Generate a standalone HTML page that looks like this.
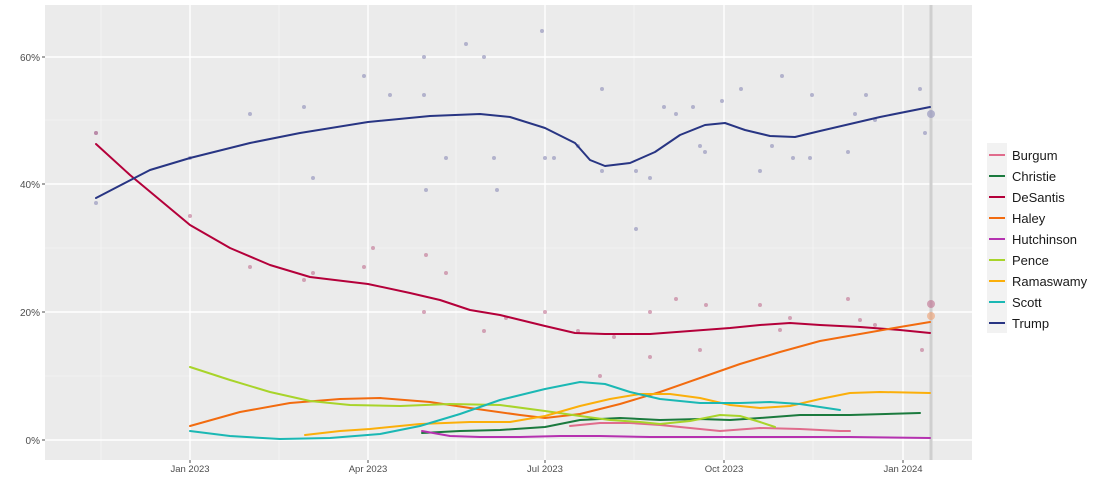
<!DOCTYPE html>
<html><head><meta charset="utf-8"><style>
body{margin:0;background:#fff;width:1100px;height:489px;overflow:hidden;font-family:"Liberation Sans",sans-serif}
</style></head><body>
<svg width="1100" height="489" xmlns="http://www.w3.org/2000/svg" font-family="Liberation Sans, sans-serif">
<rect x="45" y="5" width="927" height="455" fill="#ebebeb"/>
<g stroke="#f5f5f5" stroke-width="0.8">
<line x1="45" x2="972" y1="376" y2="376"/><line x1="45" x2="972" y1="248" y2="248"/><line x1="45" x2="972" y1="120" y2="120"/>
<line x1="101" x2="101" y1="5" y2="460"/><line x1="279" x2="279" y1="5" y2="460"/><line x1="456" x2="456" y1="5" y2="460"/><line x1="634" x2="634" y1="5" y2="460"/><line x1="813" x2="813" y1="5" y2="460"/>
</g>
<g stroke="#fff" stroke-width="1.4">
<line x1="45" x2="972" y1="440" y2="440"/><line x1="45" x2="972" y1="312" y2="312"/><line x1="45" x2="972" y1="184" y2="184"/><line x1="45" x2="972" y1="57" y2="57"/>
<line x1="190" x2="190" y1="5" y2="460"/><line x1="368" x2="368" y1="5" y2="460"/><line x1="545" x2="545" y1="5" y2="460"/><line x1="724" x2="724" y1="5" y2="460"/><line x1="903" x2="903" y1="5" y2="460"/>
</g>
<line x1="931" x2="931" y1="5" y2="460" stroke="#cfcfcf" stroke-width="3"/>
<g fill="#9a9ac0" opacity="0.7">
<circle cx="96" cy="203" r="2"/><circle cx="96" cy="133" r="2"/><circle cx="190" cy="158" r="2"/><circle cx="250" cy="114" r="2"/><circle cx="304" cy="107" r="2"/><circle cx="313" cy="178" r="2"/><circle cx="364" cy="76" r="2"/><circle cx="390" cy="95" r="2"/><circle cx="424" cy="57" r="2"/><circle cx="424" cy="95" r="2"/><circle cx="426" cy="190" r="2"/><circle cx="446" cy="158" r="2"/><circle cx="466" cy="44" r="2"/><circle cx="484" cy="57" r="2"/><circle cx="494" cy="158" r="2"/><circle cx="497" cy="190" r="2"/><circle cx="542" cy="31" r="2"/><circle cx="545" cy="158" r="2"/><circle cx="554" cy="158" r="2"/><circle cx="578" cy="146" r="2"/><circle cx="602" cy="89" r="2"/><circle cx="602" cy="171" r="2"/><circle cx="636" cy="229" r="2"/><circle cx="636" cy="171" r="2"/><circle cx="650" cy="178" r="2"/><circle cx="664" cy="107" r="2"/><circle cx="676" cy="114" r="2"/><circle cx="693" cy="107" r="2"/><circle cx="700" cy="146" r="2"/><circle cx="705" cy="152" r="2"/><circle cx="722" cy="101" r="2"/><circle cx="741" cy="89" r="2"/><circle cx="760" cy="171" r="2"/><circle cx="772" cy="146" r="2"/><circle cx="782" cy="76" r="2"/><circle cx="793" cy="158" r="2"/><circle cx="810" cy="158" r="2"/><circle cx="812" cy="95" r="2"/><circle cx="848" cy="152" r="2"/><circle cx="855" cy="114" r="2"/><circle cx="866" cy="95" r="2"/><circle cx="875" cy="120" r="2"/><circle cx="920" cy="89" r="2"/><circle cx="925" cy="133" r="2"/><circle cx="931" cy="114" r="4"/>
</g>
<g fill="#c07090" opacity="0.6">
<circle cx="96" cy="133" r="2"/><circle cx="190" cy="216" r="2"/><circle cx="250" cy="267" r="2"/><circle cx="304" cy="280" r="2"/><circle cx="313" cy="273" r="2"/><circle cx="364" cy="267" r="2"/><circle cx="373" cy="248" r="2"/><circle cx="424" cy="312" r="2"/><circle cx="426" cy="255" r="2"/><circle cx="446" cy="273" r="2"/><circle cx="484" cy="331" r="2"/><circle cx="506" cy="318" r="2"/><circle cx="545" cy="312" r="2"/><circle cx="578" cy="331" r="2"/><circle cx="614" cy="337" r="2"/><circle cx="650" cy="312" r="2"/><circle cx="676" cy="299" r="2"/><circle cx="706" cy="305" r="2"/><circle cx="760" cy="305" r="2"/><circle cx="790" cy="318" r="2"/><circle cx="848" cy="299" r="2"/><circle cx="875" cy="325" r="2"/><circle cx="922" cy="350" r="2"/><circle cx="931" cy="304" r="4"/>
<circle cx="600" cy="376" r="2"/><circle cx="650" cy="357" r="2"/><circle cx="700" cy="350" r="2"/><circle cx="780" cy="330" r="2"/><circle cx="860" cy="320" r="2"/><circle cx="931" cy="316" r="4" fill="#f0a070"/>
</g>
<g fill="none" stroke-width="2" stroke-linejoin="round" stroke-linecap="round">
<polyline stroke="#e06c8c" points="570,426 600,423 630,423 660,425 690,428 720,431 760,428 800,429 840,431 850,431"/>
<polyline stroke="#1b7a3e" points="422,433 460,431 500,430 545,427 580,420 620,418 660,420 700,419 730,420 760,418 800,415 850,415 920,413"/>
<polyline stroke="#b4003a" points="96,144 130,175 160,200 190,225 230,248 270,265 310,277 368,284 410,293 440,300 470,310 500,315 545,326 575,333 605,334 650,334 690,331 730,328 760,325 790,323 820,325 860,327 900,330 930,333"/>
<polyline stroke="#f26b0f" points="190,426 240,412 290,403 340,399 380,398 430,402 470,408 520,415 545,418 580,414 620,404 660,392 700,378 740,364 780,352 820,341 860,334 900,327 930,322"/>
<polyline stroke="#b532b0" points="422,431 450,436 480,437 520,437 560,436 600,436 650,437 700,437 760,437 800,437 850,437 930,438"/>
<polyline stroke="#a8d42a" points="190,367 230,380 270,392 310,401 350,405 400,406 450,404 500,405 545,411 580,416 610,420 640,422 660,424 690,421 720,415 740,416 760,422 775,427"/>
<polyline stroke="#fbaf0a" points="305,435 340,431 370,429 420,424 470,422 510,422 545,416 580,406 610,399 640,394 670,394 700,398 730,405 760,408 790,406 820,399 850,393 880,392 930,393"/>
<polyline stroke="#1bb8b4" points="190,431 230,436 280,439 330,438 380,434 420,426 460,414 500,400 545,389 580,382 605,384 630,392 660,399 700,403 740,403 770,402 800,404 840,410"/>
<polyline stroke="#283583" points="96,198 150,170 190,158 250,143 300,133 368,122 430,116 480,114 510,117 545,128 575,143 590,160 605,166 630,163 655,152 680,135 705,125 725,123 745,130 770,136 795,137 820,131 850,124 880,117 930,107"/>
</g>
<g fill="#4d4d4d" font-size="10" text-anchor="end">
<text x="40" y="444">0%</text><text x="40" y="316">20%</text><text x="40" y="188">40%</text><text x="40" y="61">60%</text>
</g>
<g stroke="#4d4d4d"><line x1="42" x2="45" y1="440" y2="440"/><line x1="42" x2="45" y1="312" y2="312"/><line x1="42" x2="45" y1="184" y2="184"/><line x1="42" x2="45" y1="57" y2="57"/>
<line x1="190" x2="190" y1="460" y2="463"/><line x1="368" x2="368" y1="460" y2="463"/><line x1="545" x2="545" y1="460" y2="463"/><line x1="724" x2="724" y1="460" y2="463"/><line x1="903" x2="903" y1="460" y2="463"/></g>
<g fill="#4d4d4d" font-size="9.5" text-anchor="middle">
<text x="190" y="472">Jan 2023</text><text x="368" y="472">Apr 2023</text><text x="545" y="472">Jul 2023</text><text x="724" y="472">Oct 2023</text><text x="903" y="472">Jan 2024</text>
</g>
<rect x="987" y="143" width="20" height="190" fill="#f2f2f2"/>
<g stroke-width="2">
<line x1="989" x2="1005" y1="155" y2="155" stroke="#e06c8c"/>
<line x1="989" x2="1005" y1="176" y2="176" stroke="#1b7a3e"/>
<line x1="989" x2="1005" y1="197" y2="197" stroke="#b4003a"/>
<line x1="989" x2="1005" y1="218" y2="218" stroke="#f26b0f"/>
<line x1="989" x2="1005" y1="239" y2="239" stroke="#b532b0"/>
<line x1="989" x2="1005" y1="260" y2="260" stroke="#a8d42a"/>
<line x1="989" x2="1005" y1="281" y2="281" stroke="#fbaf0a"/>
<line x1="989" x2="1005" y1="302" y2="302" stroke="#1bb8b4"/>
<line x1="989" x2="1005" y1="323" y2="323" stroke="#283583"/>
</g>
<g fill="#1a1a1a" font-size="13">
<text x="1012" y="160">Burgum</text><text x="1012" y="181">Christie</text><text x="1012" y="202">DeSantis</text><text x="1012" y="223">Haley</text><text x="1012" y="244">Hutchinson</text><text x="1012" y="265">Pence</text><text x="1012" y="286">Ramaswamy</text><text x="1012" y="307">Scott</text><text x="1012" y="328">Trump</text>
</g>
</svg>
</body></html>
